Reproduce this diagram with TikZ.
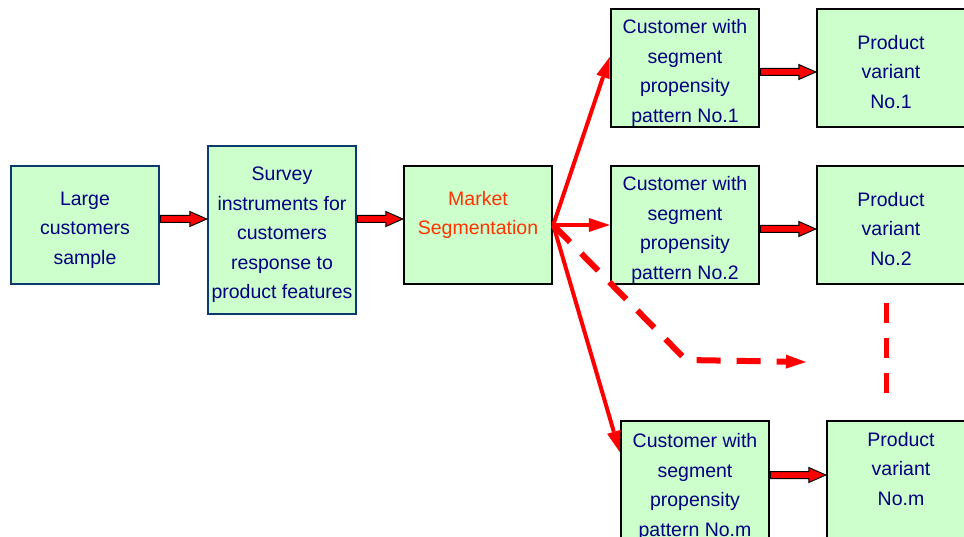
\documentclass[tikz,border=0pt]{standalone}
\usepackage{fontspec}
\setmainfont{Liberation Sans}
\usetikzlibrary{arrows.meta,calc}

\definecolor{boxfill}{HTML}{CCFFCC}
\definecolor{navytext}{HTML}{000080}
\definecolor{navyedge}{HTML}{0B3A6B}
\definecolor{segred}{HTML}{FF3300}
\definecolor{flowred}{HTML}{FF0000}

\tikzset{
  box/.style={draw=black, line width=2.5pt, fill=boxfill, minimum width=148pt,
    minimum height=118pt, inner sep=0pt},
  bluebox/.style={box, draw=navyedge},
  boxtext/.style={inner sep=0pt, align=center, text=navytext,
    font=\fontsize{19.5}{29.5}\selectfont},
  flow/.style={draw=flowred, line width=4pt,
    -{Triangle[length=21pt,width=14pt,line width=0pt]}},
  dashflow/.style={draw=flowred, line width=6pt, dash pattern=on 24pt off 16pt,
    -{Triangle[length=20pt,width=14pt,line width=0pt]}},
  vdash/.style={draw=flowred, line width=5pt, dash pattern=on 20pt off 15pt},
  blockstyle/.style={fill=flowred, draw=black, line width=1pt, line join=miter},
}

% Hollow block arrow from the east side of #1 to the west side of #2 at height #3
\newcommand\blockarrow[3]{%
  \draw[blockstyle]
    ($(#1.east |- 0,#3)+(0,-3.5)$) -- ($(#2.west |- 0,#3)+(-17,-3.5)$)
    -- ++(0,-4) -- (#2.west |- 0,#3) -- ($(#2.west |- 0,#3)+(-17,7.5)$)
    -- ++(0,-4) -- ($(#1.east |- 0,#3)+(0,3.5)$) -- cycle;}

\begin{document}
\begin{tikzpicture}[x=1pt, y=-1pt]
  \clip (0,0) rectangle (964,537);
  \fill[white] (0,0) rectangle (964,537);

  % input and survey stages
  \node[bluebox] (sample) at (85,225) {};
  \node[boxtext] (sampletext) at (85,230) {Large\\customers\\sample};
  \node[bluebox, minimum height=168pt] (survey) at (282,230) {};
  \node[boxtext] (surveytext) at (282,235)
    {Survey\\instruments for\\customers\\response to\\product features};

  % segmentation stage
  \node[box] (seg) at (478,225) {};
  \node[boxtext, text=segred] (segtext) at (478,215) {Market\\Segmentation};

  % customer segments
  \node[box] (cust1) at (685,68) {};
  \node[boxtext] (cust1text) at (685,73)
    {Customer with\\segment\\propensity\\pattern No.1};
  \node[box] (cust2) at (685,225) {};
  \node[boxtext] (cust2text) at (685,230)
    {Customer with\\segment\\propensity\\pattern No.2};
  \node[box, minimum height=124pt] (custm) at (695,483) {};
  \node[boxtext] (custmtext) at (695,487)
    {Customer with\\segment\\propensity\\pattern No.m};

  % product variants
  \node[box] (prod1) at (891,68) {};
  \node[boxtext] (prod1text) at (891,72) {Product\\variant\\No.1};
  \node[box] (prod2) at (891,225) {};
  \node[boxtext] (prod2text) at (891,229) {Product\\variant\\No.2};
  \node[box, minimum height=124pt] (prodm) at (901,483) {};
  \node[boxtext] (prodmtext) at (901,469) {Product\\variant\\No.m};

  % block arrows between stages
  \blockarrow{sample}{survey}{219}
  \blockarrow{survey}{seg}{219}
  \blockarrow{cust1}{prod1}{72}
  \blockarrow{cust2}{prod2}{229}
  \blockarrow{custm}{prodm}{475}

  % fan-out from segmentation
  \draw[flow] (seg.east) -- (cust1.west |- 0,57);
  \draw[flow] (seg.east) -- (cust2.west);
  \draw[flow] (seg.east) -- (custm.west |- 0,452);

  % further, unnamed segments
  \coordinate (bend) at (686,360);
  \coordinate (dashend) at (806,362);
  \draw[dashflow] (seg.east) -- (bend) -- (dashend);
  \coordinate (vtop) at (886,303);
  \coordinate (vbot) at (886,393);
  \draw[vdash] (vtop) -- (vbot);
\end{tikzpicture}
\end{document}
